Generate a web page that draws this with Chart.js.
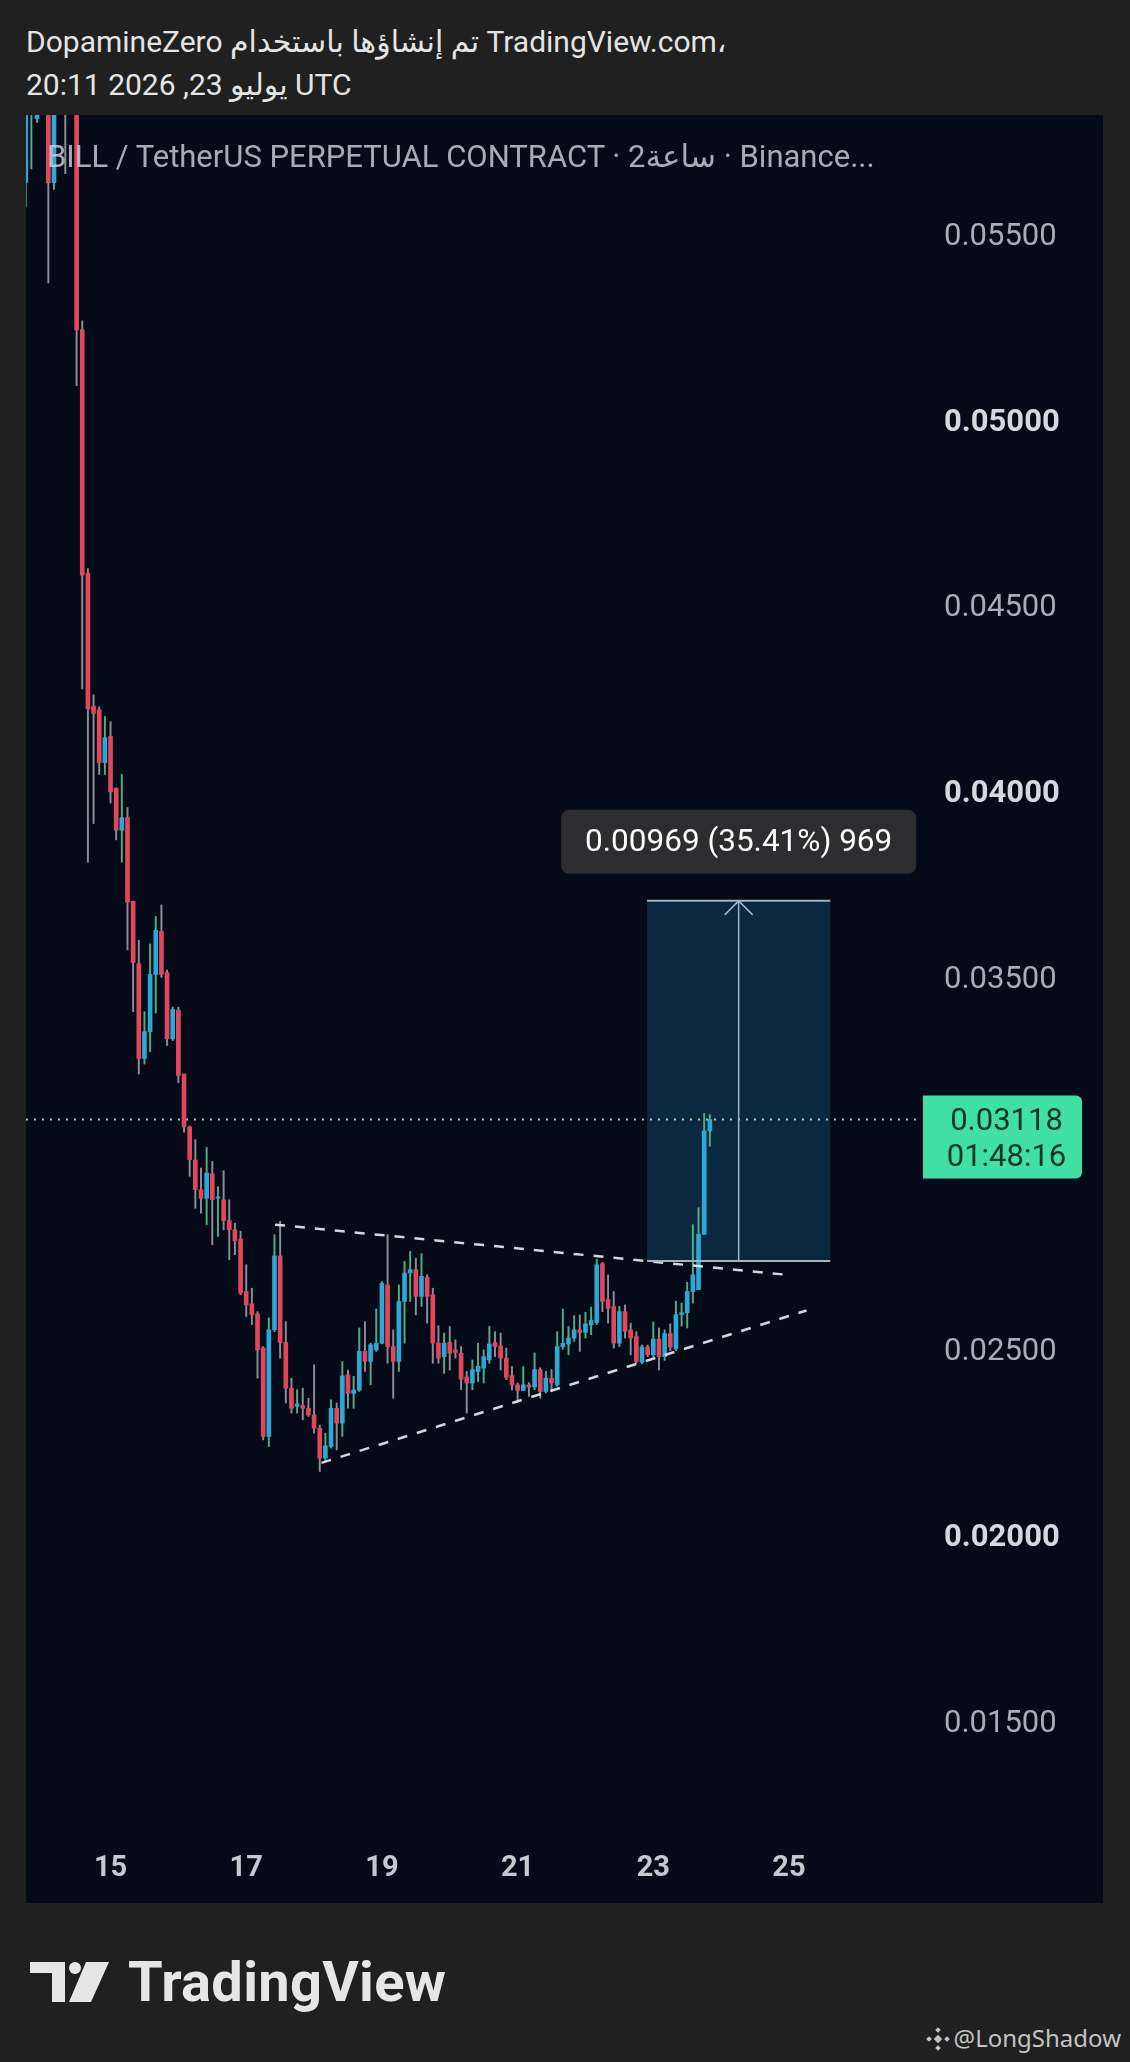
<!DOCTYPE html>
<html>
<head>
<meta charset="utf-8">
<script src="https://cdn.jsdelivr.net/npm/chart.js@4.4.1/dist/chart.umd.min.js"></script>
<style>
html, body { margin: 0; padding: 0; background: #202020; }
body { width: 1130px; height: 2062px; position: relative; overflow: hidden; font-family: Roboto, "DejaVu Sans", sans-serif; }
.hdr { position: absolute; left: 26px; color: #e4e4e4; font-size: 30px; line-height: 36px; white-space: nowrap; }
#panel { position: absolute; left: 26px; top: 115px; width: 1077px; height: 1788px; background: #050a18; }
#title { position: absolute; left: 21px; top: 24px; color: rgba(205,208,215,0.82); font-size: 31px; line-height: 36px; white-space: nowrap; pointer-events: none; z-index: 2; }
#logo { position: absolute; left: 30px; top: 1962px; }
#brand { position: absolute; left: 128px; top: 1954px; color: #e6e6e6; font-size: 56px; font-weight: bold; line-height: 56px; letter-spacing: 0.3px; }
#user { position: absolute; right: 9px; top: 2021px; color: #c4c4c4; font-family: "Noto Sans", sans-serif; font-size: 24px; line-height: 34px; white-space: nowrap; }
#user svg { vertical-align: -4px; margin-right: 4px; }
</style>
</head>
<body>
<div class="hdr" style="top:24px">DopamineZero تم إنشاؤها باستخدام TradingView.com،</div>
<div class="hdr" style="top:67px">20:11 2026 ,23 يوليو UTC</div>

<div id="panel">
  <div id="title">BILL / TetherUS PERPETUAL CONTRACT · 2ساعة · Binance...</div>
  <canvas id="chart"></canvas>
</div>

<svg id="logo" width="80" height="40" viewBox="0 0 80 40">
  <rect x="0" y="0" width="35" height="11" fill="#e6e6e6"/>
  <rect x="22" y="0" width="13" height="40" fill="#e6e6e6"/>
  <circle cx="45" cy="6" r="6" fill="#e6e6e6"/>
  <polygon points="56,0 79,0 61,40 39,40" fill="#e6e6e6"/>
</svg>
<div id="brand">TradingView</div>
<div id="user"><svg width="24" height="24" viewBox="0 0 24 24"><g fill="#c4c4c4"><rect x="9" y="9" width="6" height="6" transform="rotate(45 12 12)"/><rect x="10" y="1" width="4" height="4" transform="rotate(45 12 3)"/><rect x="10" y="19" width="4" height="4" transform="rotate(45 12 21)"/><rect x="1" y="10" width="4" height="4" transform="rotate(45 3 12)"/><rect x="19" y="10" width="4" height="4" transform="rotate(45 21 12)"/></g></svg>@LongShadow</div>

<script>
// 2h candles, index 0 = day 15 00:00, 12 candles per day
const firstIndex = -15;
const opens = [
  0.05638, 0.0585, 0.0581, 0.0590, 0.0600, 0.05638, 0.0598, 0.0603, 0.0590, 0.0596,
  0.05242, 0.04588, 0.0423, 0.0422, 0.04078, 0.04148, 0.04009, 0.03896, 0.0393, 0.03705,
  0.03537, 0.03282, 0.03354, 0.03508, 0.03624, 0.03513, 0.03335, 0.03412, 0.0324, 0.03098,
  0.03009, 0.02929, 0.02906, 0.02972, 0.02906, 0.02902, 0.02846, 0.02821, 0.02796, 0.02655,
  0.02622, 0.02595, 0.02503, 0.02265, 0.02552, 0.02751, 0.02518, 0.02395, 0.02346, 0.02348,
  0.02341, 0.02323, 0.02287, 0.02207, 0.02238, 0.02341, 0.02301, 0.02431, 0.02381, 0.0239,
  0.02494, 0.02467, 0.02498, 0.02516, 0.02673, 0.02507, 0.02467, 0.02628, 0.02705, 0.02714,
  0.02642, 0.02693, 0.02646, 0.02516, 0.0248, 0.02518, 0.02498, 0.02489, 0.02425, 0.02409,
  0.0244, 0.02449, 0.02471, 0.02518, 0.02509, 0.02476, 0.02429, 0.02404, 0.02389, 0.02404,
  0.02398, 0.02445, 0.02386, 0.02422, 0.02404, 0.02507, 0.02514, 0.0253, 0.02552, 0.02545,
  0.02565, 0.02572, 0.0273, 0.02633, 0.02615, 0.02516, 0.02601, 0.02552, 0.02534, 0.02465,
  0.02506, 0.02485, 0.02527, 0.0248, 0.02542, 0.02501, 0.02593, 0.02598, 0.02655, 0.0266,
  0.02809, 0.03087
];
const highs = [
  0.0600, 0.0600, 0.0586, 0.0600, 0.0605, 0.0605, 0.0610, 0.0610, 0.0602, 0.0600,
  0.05266, 0.0460, 0.0426, 0.04228, 0.04202, 0.04188, 0.0401, 0.04046, 0.03957, 0.03705,
  0.0360, 0.03408, 0.0359, 0.03664, 0.03695, 0.0352, 0.0342, 0.0342, 0.0324, 0.0310,
  0.03064, 0.02987, 0.03043, 0.03005, 0.02937, 0.0298, 0.02902, 0.02839, 0.02817, 0.02727,
  0.02664, 0.02601, 0.02507, 0.02584, 0.02808, 0.02844, 0.02574, 0.02422, 0.02391, 0.02395,
  0.02368, 0.02458, 0.02296, 0.02274, 0.02364, 0.02355, 0.02467, 0.02444, 0.02427, 0.02557,
  0.02574, 0.02516, 0.02608, 0.02682, 0.02808, 0.02552, 0.02673, 0.02736, 0.02763, 0.02745,
  0.02757, 0.0270, 0.02664, 0.02563, 0.02543, 0.02561, 0.02525, 0.02507, 0.0244, 0.02471,
  0.02516, 0.02498, 0.02561, 0.02547, 0.02543, 0.02503, 0.02453, 0.02409, 0.02453, 0.0241,
  0.0249, 0.0245, 0.0244, 0.02445, 0.02547, 0.02608, 0.02561, 0.0259, 0.02592, 0.02599,
  0.02613, 0.02742, 0.02733, 0.0270, 0.02655, 0.02615, 0.02619, 0.0257, 0.02547, 0.02511,
  0.02511, 0.02573, 0.02557, 0.02552, 0.02568, 0.02629, 0.02624, 0.0268, 0.02835, 0.02881,
  0.03134, 0.03131
];
const lows = [
  0.05573, 0.05675, 0.0580, 0.0586, 0.05368, 0.0562, 0.0590, 0.05662, 0.0585, 0.05092,
  0.04276, 0.0381, 0.03914, 0.04046, 0.04046, 0.03969, 0.0387, 0.0381, 0.03574, 0.03408,
  0.0324, 0.03267, 0.0330, 0.03404, 0.0350, 0.03317, 0.0333, 0.03217, 0.03084, 0.02965,
  0.02879, 0.02866, 0.02835, 0.02781, 0.02803, 0.02821, 0.02741, 0.02754, 0.02646, 0.02588,
  0.02566, 0.02422, 0.02256, 0.02238, 0.02547, 0.02476, 0.02355, 0.02328, 0.02328, 0.0231,
  0.02319, 0.02274, 0.02171, 0.02198, 0.02234, 0.02229, 0.02265, 0.02341, 0.02341, 0.02386,
  0.0244, 0.02404, 0.02494, 0.02514, 0.02462, 0.02368, 0.0244, 0.02516, 0.02628, 0.02592,
  0.02615, 0.0257, 0.02462, 0.02462, 0.02435, 0.02444, 0.02476, 0.02391, 0.02328, 0.02391,
  0.02413, 0.02409, 0.02462, 0.0248, 0.02444, 0.02418, 0.0239, 0.02359, 0.02389, 0.02373,
  0.02391, 0.02368, 0.02382, 0.02386, 0.024, 0.025, 0.02485, 0.02521, 0.02494, 0.0253,
  0.02539, 0.02566, 0.02601, 0.0257, 0.02503, 0.02507, 0.0253, 0.02485, 0.02462, 0.0246,
  0.0248, 0.0248, 0.02444, 0.0247, 0.02496, 0.02496, 0.02562, 0.02557, 0.02624, 0.0266,
  0.02809, 0.03046
];
const closes = [
  0.0595, 0.0592, 0.0584, 0.0595, 0.05638, 0.0598, 0.0603, 0.0590, 0.0596, 0.05242,
  0.04582, 0.04223, 0.0421, 0.04078, 0.04145, 0.03999, 0.03896, 0.0393, 0.03702, 0.0354,
  0.03282, 0.03354, 0.03508, 0.03627, 0.03508, 0.03335, 0.03414, 0.03236, 0.03098, 0.0301,
  0.02929, 0.02906, 0.02974, 0.02902, 0.0291, 0.02846, 0.02821, 0.02792, 0.02651, 0.02619,
  0.02592, 0.02498, 0.02265, 0.02552, 0.02751, 0.02518, 0.02395, 0.02341, 0.02353, 0.02341,
  0.02323, 0.02287, 0.02207, 0.0224, 0.02341, 0.02301, 0.02428, 0.02381, 0.0239, 0.02494,
  0.02467, 0.02512, 0.02516, 0.02677, 0.02507, 0.02467, 0.02628, 0.02705, 0.02714, 0.02642,
  0.02696, 0.02642, 0.02516, 0.02476, 0.02516, 0.02489, 0.02491, 0.02419, 0.02409, 0.02445,
  0.02454, 0.0248, 0.02514, 0.02507, 0.02476, 0.02424, 0.02404, 0.02389, 0.02404, 0.02398,
  0.02445, 0.02386, 0.02422, 0.02409, 0.02507, 0.02516, 0.0253, 0.02552, 0.02545, 0.02568,
  0.02577, 0.02727, 0.02628, 0.0261, 0.02516, 0.02601, 0.02548, 0.0253, 0.02467, 0.02506,
  0.02485, 0.02527, 0.0248, 0.02542, 0.02506, 0.02593, 0.02598, 0.02655, 0.027, 0.02809,
  0.03087, 0.03118
];

const dayTicks = [0, 24, 48, 72, 96, 120];
const dayLabels = ['15', '17', '19', '21', '23', '25'];
const priceTicks = [0.015, 0.02, 0.025, 0.035, 0.04, 0.045, 0.05, 0.055];
const boldTicks = [0.02, 0.04, 0.05];

// triangle trend lines [index, price]
const upperLine = [[29.1, 0.02835], [119, 0.02701]];
const lowerLine = [[37.3, 0.02194], [123.1, 0.02604]];

// measuring box
const boxFrom = 94.9, boxTo = 127.3;
const boxLow = 0.02737, boxHigh = 0.03706;
const boxText = '0.00969 (35.41%) 969';

const lastPrice = 0.03118;
const countdown = '01:48:16';

const xMin = -14.95, xMax = 143.17;
const yMin = 0.01185, yMax = 0.0582;

const idx = opens.map((_, k) => firstIndex + k);
const isUp = opens.map((o, k) => closes[k] >= o);
const upBody = '#2ea6d6', downBody = '#e0475b';
const upWick = '#52ad80', downWick = '#8b8e97';

const overlay = {
  id: 'overlay',
  beforeDatasetsDraw(chart) {
    const { ctx, chartArea: a, scales: { x, y } } = chart;
    ctx.save();
    ctx.beginPath();
    ctx.rect(a.left, a.top, a.right - a.left, a.bottom - a.top);
    ctx.clip();
    const x1 = x.getPixelForValue(boxFrom), x2 = x.getPixelForValue(boxTo);
    const y1 = y.getPixelForValue(boxHigh), y2 = y.getPixelForValue(boxLow);
    ctx.fillStyle = 'rgba(20,100,140,0.35)';
    ctx.fillRect(x1, y1, x2 - x1, y2 - y1);
    const py = y.getPixelForValue(lastPrice);
    ctx.setLineDash([2, 6]);
    ctx.strokeStyle = 'rgba(190,235,225,0.85)';
    ctx.lineWidth = 2;
    ctx.beginPath();
    ctx.moveTo(a.left, py);
    ctx.lineTo(a.right, py);
    ctx.stroke();
    ctx.restore();
  },
  afterDatasetsDraw(chart) {
    const { ctx, scales: { x, y } } = chart;
    const x1 = x.getPixelForValue(boxFrom), x2 = x.getPixelForValue(boxTo);
    const y1 = y.getPixelForValue(boxHigh), y2 = y.getPixelForValue(boxLow);
    const cx = (x1 + x2) / 2;
    ctx.save();
    ctx.strokeStyle = '#9fb4c4';
    ctx.lineWidth = 2;
    ctx.beginPath();
    ctx.moveTo(x1, y1); ctx.lineTo(x2, y1);
    ctx.moveTo(x1, y2); ctx.lineTo(x2, y2);
    ctx.stroke();
    ctx.lineWidth = 1.5;
    ctx.beginPath();
    ctx.moveTo(cx, y2); ctx.lineTo(cx, y1);
    ctx.moveTo(cx - 14, y1 + 14); ctx.lineTo(cx, y1); ctx.lineTo(cx + 14, y1 + 14);
    ctx.stroke();
    ctx.restore();
  },
  afterDraw(chart) {
    const { ctx, chartArea: a, scales: { x, y } } = chart;
    const x1 = x.getPixelForValue(boxFrom), x2 = x.getPixelForValue(boxTo);
    const y1 = y.getPixelForValue(boxHigh);
    const cx = (x1 + x2) / 2;
    ctx.save();
    // measure label
    const lw = 355, lh = 64;
    ctx.fillStyle = '#2d2d2f';
    ctx.beginPath();
    ctx.roundRect(cx - lw / 2, y1 - 27 - lh, lw, lh, 8);
    ctx.fill();
    ctx.fillStyle = '#ffffff';
    ctx.font = '31.5px Roboto, sans-serif';
    ctx.textAlign = 'center';
    ctx.textBaseline = 'middle';
    ctx.fillText(boxText, cx, y1 - 27 - lh / 2 + 1);
    // last price label
    const py = y.getPixelForValue(lastPrice);
    const lx = a.right + 3, lwid = 159;
    ctx.fillStyle = '#40e0a5';
    ctx.beginPath();
    ctx.roundRect(lx, py - 24, lwid, 83, [0, 6, 6, 0]);
    ctx.fill();
    ctx.fillStyle = '#0c3626';
    ctx.font = '31px Roboto, sans-serif';
    ctx.fillText(lastPrice.toFixed(5), lx + lwid / 2 + 4, py + 3);
    ctx.fillText(countdown, lx + lwid / 2 + 4, py + 39);
    ctx.restore();
  }
};

new Chart(document.getElementById('chart'), {
  type: 'bar',
  data: {
    datasets: [
      {
        type: 'line',
        data: upperLine.map(p => ({ x: p[0], y: p[1] })),
        borderColor: 'rgba(235,235,235,0.9)',
        borderWidth: 2.5,
        borderDash: [10, 10],
        pointRadius: 0,
        order: 0
      },
      {
        type: 'line',
        data: lowerLine.map(p => ({ x: p[0], y: p[1] })),
        borderColor: 'rgba(235,235,235,0.9)',
        borderWidth: 2.5,
        borderDash: [10, 10],
        pointRadius: 0,
        order: 0
      },
      {
        data: idx.map((i, k) => ({ x: i, y: [opens[k], closes[k]] })),
        backgroundColor: isUp.map(u => u ? upBody : downBody),
        barThickness: 4,
        minBarLength: 1.5,
        grouped: false,
        order: 1
      },
      {
        data: idx.map((i, k) => ({ x: i, y: [lows[k], highs[k]] })),
        backgroundColor: isUp.map(u => u ? upWick : downWick),
        barThickness: 1.3,
        grouped: false,
        order: 2
      }
    ]
  },
  options: {
    responsive: true,
    maintainAspectRatio: false,
    animation: false,
    layout: { padding: 0 },
    plugins: { legend: { display: false }, tooltip: { enabled: false } },
    scales: {
      x: {
        type: 'linear',
        min: xMin,
        max: xMax,
        offset: false,
        grid: { display: false, drawTicks: false },
        border: { display: false },
        afterBuildTicks(s) { s.ticks = dayTicks.map(v => ({ value: v })); },
        afterFit(s) { s.height = 65; s.paddingLeft = 0; s.paddingRight = 0; },
        ticks: {
          autoSkip: false,
          maxRotation: 0,
          padding: 13,
          color: '#c5c8cf',
          font: { family: 'Roboto', size: 29, weight: 'bold' },
          callback: v => dayLabels[dayTicks.indexOf(v)]
        }
      },
      y: {
        position: 'right',
        min: yMin,
        max: yMax,
        grid: { display: false, drawTicks: false },
        border: { display: false },
        afterBuildTicks(s) { s.ticks = priceTicks.map(v => ({ value: v })); },
        afterFit(s) { s.width = 183; s.paddingTop = 0; s.paddingBottom = 0; },
        ticks: {
          padding: 24,
          labelOffset: 3,
          callback: v => v.toFixed(5),
          color: c => boldTicks.includes(c.tick && c.tick.value) ? '#d6d8de' : '#a9acb4',
          font: c => ({ family: 'Roboto', size: 31, weight: boldTicks.includes(c.tick && c.tick.value) ? 'bold' : 'normal' })
        }
      }
    }
  },
  plugins: [overlay]
});
</script>
</body>
</html>
